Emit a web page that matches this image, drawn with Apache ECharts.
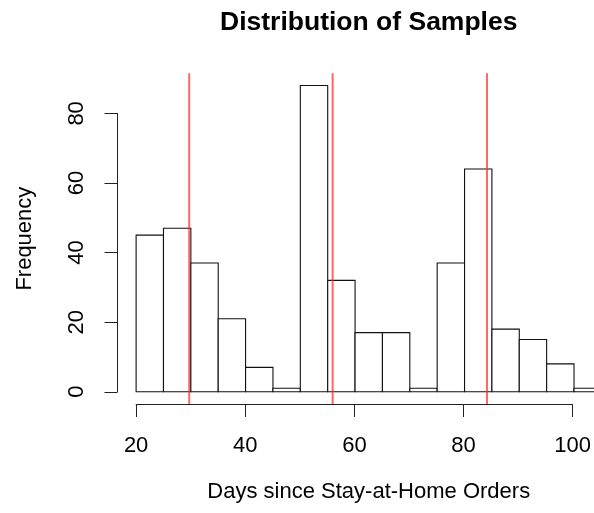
<!DOCTYPE html>
<html>
<head>
<meta charset="utf-8">
<style>html,body{margin:0;padding:0;background:#fff;}#c{width:594px;height:513px;}</style>
<script src="https://cdn.jsdelivr.net/npm/echarts@6/dist/echarts.min.js"></script>
</head>
<body>
<div id="c"></div>
<script>
// ---- data ----
const binStarts = [20,25,30,35,40,45,50,55,60,65,70,75,80,85,90,95,100];
const binWidth = 5;
const counts = [45,47,37,21,7,1,88,32,17,17,1,37,64,18,15,8,1];
const refLines = [29.7, 55.9, 84.1];
const xTicks = [20,40,60,80,100];
const yTicks = [0,20,40,60,80];
const titleText = 'Distribution of Samples';
const xLabel = 'Days since Stay-at-Home Orders';
const yLabel = 'Frequency';

// ---- layout (R-style plot region; right part lies beyond the canvas) ----
const xMin = 16.6, yMin = -3.52, yMax = 91.52;
const pxPerX = 502.5 / 91.8;
const plotLeft = 117.5, plotTop = 73.3, plotHeight = 330.7;
const plotWidth = 594 - plotLeft;             // visible part of the plot region
const xMax = xMin + plotWidth / pxPerX;       // value at the canvas edge
const fullCenterX = plotLeft + 502.5 / 2;     // centre of full R plot region
const pxX = v => plotLeft + (v - xMin) * pxPerX;
const pxY = v => plotTop + (yMax - v) / (yMax - yMin) * plotHeight;
const FONT = "'Liberation Sans', Arial, sans-serif";
const AX = '#222';

const chart = echarts.init(document.getElementById('c'), null, {renderer: 'canvas'});
const histData = binStarts.map((s, i) => [s, s + binWidth, counts[i]]);

const yAxTop = pxY(yTicks[yTicks.length - 1]);
const yAxBot = pxY(yTicks[0]);
const xAxL = pxX(xTicks[0]);
const xAxR = pxX(xTicks[xTicks.length - 1]);

const option = {
  animation: false,
  backgroundColor: '#fff',
  title: [
    {text: titleText, left: fullCenterX, top: 9, textAlign: 'center', padding: 0,
     textStyle: {fontFamily: FONT, fontSize: 26.5, fontWeight: 'bold', color: '#000'}},
    {text: xLabel, left: fullCenterX, top: 481, textAlign: 'center', padding: 0,
     textStyle: {fontFamily: FONT, fontSize: 22, fontWeight: 'normal', color: '#000'}}
  ],
  grid: [
    {left: plotLeft, top: plotTop, width: plotWidth, height: plotHeight, containLabel: false},
    {left: plotLeft, top: yAxTop, width: 1, height: yAxBot - yAxTop},
    {left: xAxL, top: plotTop + plotHeight - 1, width: xAxR - xAxL, height: 1}
  ],
  xAxis: [
    {gridIndex: 0, type: 'value', min: xMin, max: xMax,
     axisLine: {show: false}, axisTick: {show: false}, axisLabel: {show: false}, splitLine: {show: false}},
    {gridIndex: 1, type: 'value', show: false},
    {gridIndex: 2, type: 'value', min: xTicks[0], max: xTicks[xTicks.length - 1], interval: 20, position: 'bottom',
     axisLine: {show: true, lineStyle: {color: AX, width: 1}},
     axisTick: {show: true, length: 13, lineStyle: {color: AX, width: 1}},
     axisLabel: {show: true, margin: 31, fontFamily: FONT, fontSize: 22, color: '#000',
                 formatter: v => xTicks.includes(v) ? String(v) : ''},
     splitLine: {show: false}}
  ],
  yAxis: [
    {gridIndex: 0, type: 'value', min: yMin, max: yMax,
     axisLine: {show: false}, axisTick: {show: false}, axisLabel: {show: false}, splitLine: {show: false},
     name: yLabel, nameLocation: 'middle', nameGap: 82, nameRotate: 90,
     nameTextStyle: {fontFamily: FONT, fontSize: 22, color: '#000'}},
    {gridIndex: 1, type: 'value', min: yTicks[0], max: yTicks[yTicks.length - 1], interval: 20, position: 'left',
     axisLine: {show: true, lineStyle: {color: AX, width: 1}},
     axisTick: {show: true, length: 13, lineStyle: {color: AX, width: 1}},
     axisLabel: {show: true, margin: 30, rotate: 90, fontFamily: FONT, fontSize: 22, color: '#000',
                 formatter: v => yTicks.includes(v) ? String(v) : ''},
     splitLine: {show: false}},
    {gridIndex: 2, type: 'value', show: false}
  ],
  series: [
    {
      type: 'custom', xAxisIndex: 0, yAxisIndex: 0, data: histData,
      encode: {x: [0, 1], y: 2}, clip: false, z: 2,
      renderItem: (params, api) => {
        const p0 = api.coord([api.value(0), api.value(2)]);
        const p1 = api.coord([api.value(1), 0]);
        return {type: 'rect',
          shape: {x: p0[0], y: p0[1], width: p1[0] - p0[0], height: p1[1] - p0[1]},
          style: {fill: '#fff', stroke: '#111', lineWidth: 1.1}};
      }
    },
    ...refLines.map(v => ({
      type: 'line', xAxisIndex: 0, yAxisIndex: 0, z: 5, symbol: 'none', silent: true,
      data: [[v, yMin], [v, yMax]],
      lineStyle: {color: 'rgba(255,40,40,0.7)', width: 2}
    }))
  ]
};
chart.setOption(option);
</script>
</body>
</html>
